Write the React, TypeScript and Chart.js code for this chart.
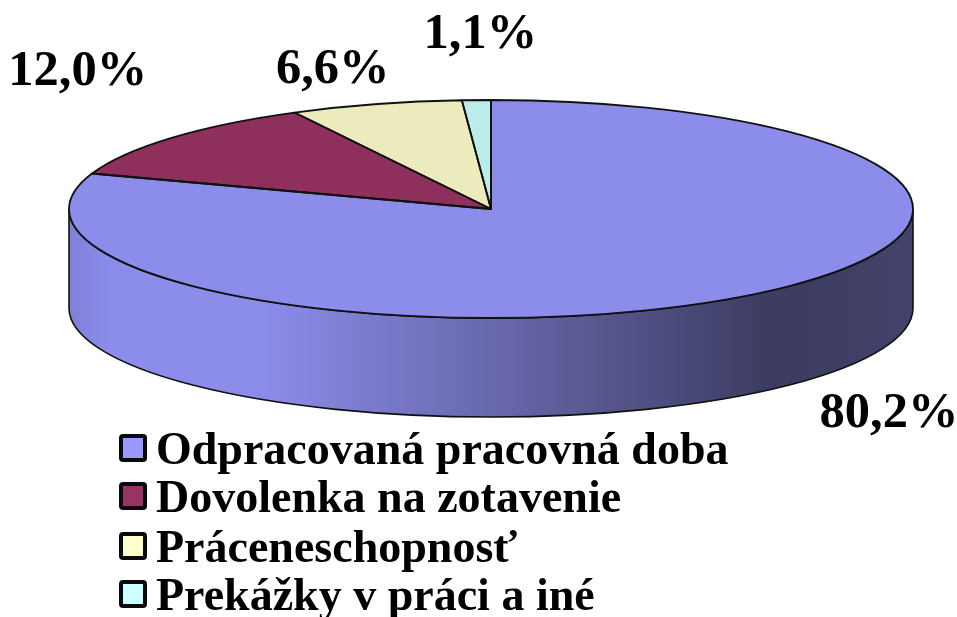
import React, { useEffect, useRef } from "react";
import { Chart, registerables } from "chart.js";

Chart.register(...registerables);

const categories = [
  "Odpracovaná pracovná doba",
  "Dovolenka na zotavenie",
  "Práceneschopnosť",
  "Prekážky v práci a iné",
];
const shares = [80.2, 12.0, 6.6, 1.1];
const sliceColors = ["#8c8ceb", "#8e2f5c", "#ecebbd", "#bbebeb"];
const legendColors = ["#9999ff", "#993366", "#ffffcc", "#ccffff"];

// Style / layout of the 3D look
const CX = 491;
const CY = 209;
const RX = 422;
const RY = 109;
const DEPTH = 99;
const OUTLINE = "#111";
const labelFont = "bold 50.5px 'Liberation Serif'";
const legendFont = "bold 46px 'Liberation Serif'";
const labelOffsets = [
  [153, 129],
  [-93, -53],
  [-43, -21],
  [4, -52],
];
const legendBaselines = [464, 512, 562, 610];

const pie3d = {
  id: "pie3d",
  beforeDatasetsDraw(chart: any) {
    const { ctx } = chart;
    const el = chart.getDatasetMeta(0).data[0];
    // side wall
    ctx.save();
    const g = ctx.createLinearGradient(CX - RX, 0, CX + RX, 0);
    g.addColorStop(0, "#8080d8");
    g.addColorStop(0.05, "#8c8cec");
    g.addColorStop(0.23, "#8c8cea");
    g.addColorStop(0.83, "#3c3c62");
    g.addColorStop(1, "#42426a");
    ctx.beginPath();
    ctx.moveTo(CX - RX, CY);
    ctx.lineTo(CX - RX, CY + DEPTH);
    ctx.ellipse(CX, CY + DEPTH, RX, RY, 0, Math.PI, 0, true);
    ctx.lineTo(CX + RX, CY);
    ctx.ellipse(CX, CY, RX, RY, 0, 0, Math.PI, false);
    ctx.closePath();
    ctx.fillStyle = g;
    ctx.fill();
    ctx.lineWidth = 1.6;
    ctx.strokeStyle = OUTLINE;
    ctx.stroke();
    ctx.restore();
    // flatten the library's arcs into the top ellipse
    ctx.save();
    ctx.translate(CX, CY);
    ctx.scale(RX / el.outerRadius, RY / el.outerRadius);
    ctx.translate(-el.x, -el.y);
  },
  afterDatasetsDraw(chart: any) {
    const { ctx } = chart;
    ctx.restore();
    const meta = chart.getDatasetMeta(0);
    ctx.save();
    ctx.lineWidth = 1.8;
    ctx.strokeStyle = OUTLINE;
    ctx.lineJoin = "round";
    meta.data.forEach((arc: any) => {
      ctx.beginPath();
      ctx.moveTo(CX, CY);
      ctx.ellipse(CX, CY, RX, RY, 0, arc.startAngle, arc.endAngle, false);
      ctx.closePath();
      ctx.stroke();
    });
    // value labels
    ctx.fillStyle = "#000";
    ctx.font = labelFont;
    ctx.textAlign = "center";
    ctx.textBaseline = "alphabetic";
    meta.data.forEach((arc: any, i: number) => {
      const mid = (arc.startAngle + arc.endAngle) / 2;
      const x = CX + RX * Math.cos(mid) + labelOffsets[i][0];
      const y = CY + RY * Math.sin(mid) + labelOffsets[i][1];
      const text = chart.data.datasets[0].data[i].toFixed(1).replace(".", ",") + "%";
      ctx.fillText(text, x, y);
    });
    // legend
    ctx.textAlign = "left";
    ctx.font = legendFont;
    chart.data.labels.forEach((label: string, i: number) => {
      const base = legendBaselines[i];
      ctx.beginPath();
      ctx.roundRect(121, base - 28, 24, 24, 2);
      ctx.fillStyle = legendColors[i];
      ctx.fill();
      ctx.lineWidth = 4;
      ctx.strokeStyle = "#0a0a0a";
      ctx.stroke();
      ctx.fillStyle = "#000";
      ctx.fillText(label, 156, base);
    });
    ctx.restore();
  },
};

export default function App() {
  const ref = useRef<HTMLCanvasElement | null>(null);
  useEffect(() => {
    const chart = new Chart(ref.current as HTMLCanvasElement, {
      type: "pie",
      data: {
        labels: categories,
        datasets: [
          {
            data: shares,
            backgroundColor: sliceColors,
            borderWidth: 0,
            clip: false,
          } as any,
        ],
      },
      options: {
        responsive: false,
        animation: false,
        devicePixelRatio: 1,
        layout: { padding: 0 },
        plugins: { legend: { display: false }, tooltip: { enabled: false } },
      },
      plugins: [pie3d],
    });
    return () => chart.destroy();
  }, []);
  return (
    <div style={{ position: "absolute", left: 0, top: 0, width: 957, height: 617, background: "#fff" }}>
      <canvas ref={ref} width={957} height={617} style={{ display: "block" }} />
    </div>
  );
}
